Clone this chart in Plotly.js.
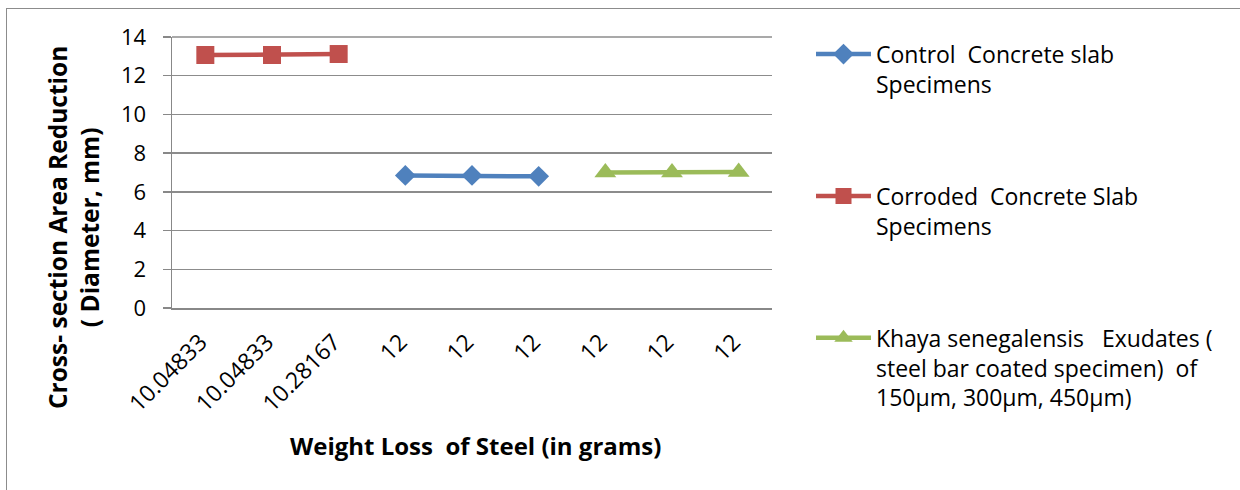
<!DOCTYPE html>
<html>
<head>
<meta charset="utf-8">
<script src="https://cdn.plot.ly/plotly-3.0.1.min.js"></script>
<style>
  html, body { margin: 0; padding: 0; background: #fff; }
  #frame { position: absolute; left: 6px; top: 8px; width: 1234px; height: 482px;
           border-top: 1.5px solid #8c8c8c; border-left: 1.5px solid #8c8c8c; }
  #chart { position: absolute; left: 0; top: 0; width: 1240px; height: 490px; }
</style>
</head>
<body>
<div id="frame"></div>
<div id="chart"></div>
<script>
// Category labels along the x axis (weight loss of steel, grams)
const categoryLabels = ['10.04833', '10.04833', '10.28167', '12', '12', '12', '12', '12', '12'];
const categoryIndex = [0, 1, 2, 3, 4, 5, 6, 7, 8];

// Cross-section area reduction (diameter, mm) per specimen group
const controlX = [3, 4, 5];
const controlY = [6.85, 6.85, 6.80];

const corrodedX = [0, 1, 2];
const corrodedY = [13.07, 13.07, 13.12];

const khayaX = [6, 7, 8];
const khayaY = [7.00, 7.00, 7.03];

const seriesNames = [
  'Control\u00a0\u00a0Concrete slab<br>Specimens',
  'Corroded\u00a0\u00a0Concrete Slab<br>Specimens',
  'Khaya senegalensis\u00a0\u00a0\u00a0Exudates (<br>steel bar coated specimen)\u00a0\u00a0of<br>150\u00b5m, 300\u00b5m, 450\u00b5m)'
];

const FONT = '"Open Sans", Lato, sans-serif';

const traces = [
  { x: controlX, y: controlY, name: seriesNames[0], legendgroup: 'a',
    mode: 'lines+markers', line: { color: '#4F81BD', width: 4.5 },
    marker: { symbol: 'diamond', size: 16, color: '#4F81BD' } },
  { x: corrodedX, y: corrodedY, name: seriesNames[1], legendgroup: 'b',
    mode: 'lines+markers', line: { color: '#C0504D', width: 4.5 },
    marker: { symbol: 'square', size: 18, color: '#C0504D' } },
  { x: khayaX, y: khayaY, name: seriesNames[2], legendgroup: 'c',
    mode: 'lines+markers', line: { color: '#9BBB59', width: 4.5 },
    marker: { symbol: 'triangle-up', size: 19, color: '#9BBB59' } }
];

const layout = {
  width: 1240, height: 490,
  margin: { l: 172, r: 468, t: 37, b: 182 },
  paper_bgcolor: 'rgba(0,0,0,0)',
  plot_bgcolor: 'rgba(0,0,0,0)',
  font: { family: FONT, color: '#000' },
  showlegend: true,
  legend: {
    x: 1.065, y: 1.016, xanchor: 'left', yanchor: 'top',
    traceorder: 'grouped', tracegroupgap: 79, valign: 'top',
    font: { family: FONT, size: 23, color: '#000' },
    bgcolor: 'rgba(0,0,0,0)', itemwidth: 55, maxheight: 470
  },
  xaxis: {
    range: [-0.5, 8.5],
    tickmode: 'array', tickvals: categoryIndex, ticktext: categoryLabels,
    tickangle: -45, tickfont: { family: FONT, size: 23, color: '#000' },
    ticklabelstandoff: 10, ticklabelshift: -5,
    showgrid: false, zeroline: false,
    showline: true, linecolor: '#888', linewidth: 1.5,
    ticks: '', fixedrange: true
  },
  yaxis: {
    range: [0, 14], dtick: 2, tick0: 0,
    tickfont: { family: FONT, size: 22, color: '#000' },
    showgrid: true, gridcolor: '#8c8c8c', gridwidth: 1.5,
    zeroline: false, showline: true, linecolor: '#888', linewidth: 1.5,
    ticks: 'outside', ticklen: 8, tickcolor: '#888', tickwidth: 1.5,
    ticklabelstandoff: 12, fixedrange: true
  },
  shapes: [
    // top border line of the plot area (14 gridline extends across)
    { type: 'line', xref: 'paper', yref: 'paper', x0: 0, x1: 1, y0: 1, y1: 1,
      line: { color: '#8c8c8c', width: 1.5 } }
  ],
  annotations: [
    { text: '<b>Weight Loss\u00a0\u00a0of Steel (in grams)</b>',
      xref: 'paper', yref: 'paper', x: 0.505, y: -0.507,
      xanchor: 'center', yanchor: 'middle', showarrow: false,
      font: { family: FONT, size: 24, color: '#000' } },
    { text: '<b>Cross- section Area Reduction<br>( Diameter, mm)</b>',
      xref: 'paper', yref: 'paper', x: -0.165, y: 0.295,
      xanchor: 'center', yanchor: 'middle', textangle: -90, showarrow: false,
      font: { family: FONT, size: 24.5, color: '#000' } }
  ]
};

Plotly.newPlot('chart', traces, layout, { displayModeBar: false, staticPlot: true });
</script>
</body>
</html>
